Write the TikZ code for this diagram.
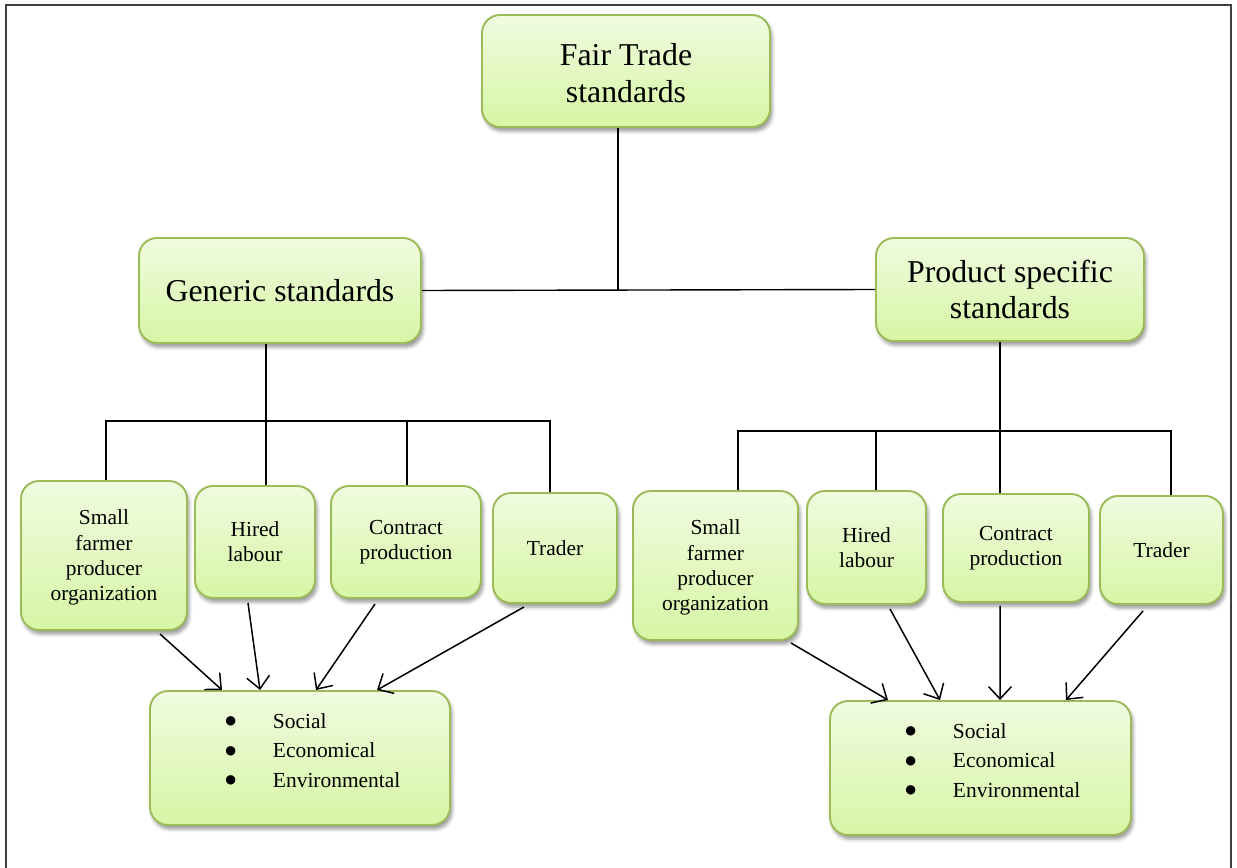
\documentclass[tikz,border=0pt]{standalone}
\usepackage{fontspec}
\setmainfont{Liberation Serif}
\newfontfamily\symfont{DejaVu Sans}
\usetikzlibrary{calc,arrows.meta,shadows.blur}

\definecolor{boxline}{HTML}{9BBB59}
\definecolor{boxtop}{HTML}{F0FBE0}
\definecolor{boxbot}{HTML}{D6F6A4}
\definecolor{framegray}{HTML}{404040}

\tikzset{
  gbox/.style={draw=boxline, line width=1.1pt, rounded corners=0.36cm,
    top color=boxtop, bottom color=boxbot, align=center, inner sep=0pt,
    blur shadow={shadow xshift=1.2pt, shadow yshift=-2.4pt, shadow blur radius=2pt, shadow opacity=40}},
  bigtext/.style={font=\fontsize{18.1}{21}\selectfont},
  smalltext/.style={font=\fontsize{12.2}{14.3}\selectfont},
  listtext/.style={font=\fontsize{12.2}{16.8}\selectfont, inner sep=0pt, anchor=base west},
  tree/.style={line width=0.8pt, black},
  flow/.style={line width=0.85pt, black, -{Straight Barb[length=7pt,width=13pt,line width=0.85pt]}},
}
% box given by left, top, right, bottom in picture units (1 unit = 0.02cm)
\newcommand\gnode[6]{%
  \node[gbox,#6, minimum width={(#4-#2)*0.02cm}, minimum height={(#5-#3)*0.02cm}]
    (#1) at ({(#2+#4)/2},{(#3+#5)/2}) {};}
% three-item bullet list
\newcommand\dotitem{\raisebox{1.8pt}{\symfont\fontsize{7}{7}\selectfont ●}}
\newcommand\dimlist{\begin{tabular}[t]{@{}l@{\hspace{21pt}}l@{}}
   \dotitem & Social\\ \dotitem & Economical\\ \dotitem & Environmental\end{tabular}}

\begin{document}
\begin{tikzpicture}[x=0.02cm, y=-0.02cm]
\useasboundingbox (0,0) rectangle (1237,868);

% outer frame (open at the bottom)
\draw[framegray, line width=1.1pt] (6,868) -- (6,5) -- (1231,5) -- (1231,868);

% top level
\gnode{ft}{482}{15}{770}{127}{bigtext}
\node[bigtext, align=center] (ftt) at ($(ft)+(0,2)$) {Fair Trade\\standards};

% second level
\gnode{gen}{139}{238}{421}{343}{bigtext}
\node[bigtext] (gent) at (gen) {Generic standards};
\gnode{ps}{876}{238}{1144}{341}{bigtext}
\node[bigtext, align=center] (pst) at (ps) {Product specific\\standards};

% third level, generic branch
\gnode{sfa}{21}{481}{187}{630}{smalltext}
\node[smalltext, align=center] (sfat) at ($(sfa)+(0,2)$) {Small\\farmer\\producer\\organization};
\gnode{hla}{195}{486}{315}{598}{smalltext}
\node[smalltext, align=center] (hlat) at (hla) {Hired\\labour};
\gnode{cpa}{331}{486}{481}{598}{smalltext}
\node[smalltext, align=center] (cpat) at (cpa) {Contract\\production};
\gnode{tra}{493}{493}{617}{603}{smalltext}
\node[smalltext] (trat) at (tra) {Trader};

% third level, product specific branch
\gnode{sfb}{633}{491}{798}{640}{smalltext}
\node[smalltext, align=center] (sfbt) at ($(sfb)+(0,2)$) {Small\\farmer\\producer\\organization};
\gnode{hlb}{807}{491}{926}{604}{smalltext}
\node[smalltext, align=center] (hlbt) at (hlb) {Hired\\labour};
\gnode{cpb}{943}{494}{1089}{602}{smalltext}
\node[smalltext, align=center] (cpbt) at (cpb) {Contract\\production};
\gnode{trb}{1100}{496}{1223}{604}{smalltext}
\node[smalltext] (trbt) at (trb) {Trader};

% dimension boxes
\gnode{dima}{150}{691}{450}{825}{smalltext}
\node[listtext] (dimat) at (225,728) {\dimlist};
\gnode{dimb}{830}{701}{1131}{835}{smalltext}
\node[listtext] (dimbt) at (905,738) {\dimlist};

% tree connectors
\coordinate (hub) at ($(ft.south)+(-8,0)$);
\draw[tree] (hub) -- (hub |- gen.east);
\draw[tree] (gen.east) -- (ps.west);

\coordinate (bara) at ($(gen.south)+(-14,77)$);
\draw[tree] ($(gen.south)+(-14,0)$) -- (bara);
\draw[tree] ($(sfa.north)+(2,0)$) |- (bara);
\draw[tree] ($(hla.north)+(11,0)$) -- (bara);
\draw[tree] ($(cpa.north)+(1,0)$) |- (bara);
\draw[tree] ($(tra.north)+(-5,0)$) |- (bara);

\coordinate (barb) at ($(ps.south)+(-10,89)$);
\draw[tree] ($(ps.south)+(-10,0)$) -- (barb);
\draw[tree] ($(sfb.north)+(22.5,0)$) |- (barb);
\draw[tree] ($(hlb.north)+(9.5,0)$) |- (barb);
\draw[tree] ($(cpb.north)+(-16,0)$) -- (barb);
\draw[tree] ($(trb.north)+(9.5,0)$) |- (barb);

% arrows into the dimension boxes
\draw[flow] ($(sfa.south)+(56,3)$) -- ($(dima.north)+(-78,0)$);
\draw[flow] ($(hla.south)+(-7,4)$) -- ($(dima.north)+(-40,0)$);
\draw[flow] ($(cpa.south)+(-31,5)$) -- ($(dima.north)+(16,0)$);
\draw[flow] ($(tra.south)+(-31,3)$) -- ($(dima.north)+(77,0)$);

\draw[flow] ($(sfb.south)+(75.5,2)$) -- ($(dimb.north)+(-92.5,0)$);
\draw[flow] ($(hlb.south)+(23.5,4)$) -- ($(dimb.north)+(-40.5,0)$);
\draw[flow] ($(cpb.south)+(-16,3)$) -- ($(dimb.north)+(19.5,0)$);
\draw[flow] ($(trb.south)+(-18.5,6)$) -- ($(dimb.north)+(85.5,0)$);
\end{tikzpicture}
\end{document}
